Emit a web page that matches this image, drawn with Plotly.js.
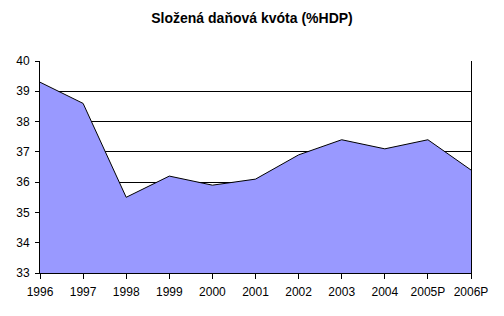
<!DOCTYPE html>
<html><head><meta charset="utf-8">
<script src="https://cdn.plot.ly/plotly-3.0.1.min.js"></script>
<style>html,body{margin:0;padding:0;background:#fff}#c{width:504px;height:316px}</style>
</head><body><div id="c"></div>
<script>
const years = ["1996","1997","1998","1999","2000","2001","2002","2003","2004","2005P","2006P"];
const quota = [39.3, 38.6, 35.5, 36.2, 35.9, 36.1, 36.9, 37.4, 37.1, 37.4, 36.4];
const yTicks = [33, 34, 35, 36, 37, 38, 39, 40];

Plotly.newPlot('c', [{
  x: years, y: quota, type: 'scatter', mode: 'lines',
  fill: 'tozeroy', fillcolor: '#9999FF',
  line: {color: '#000000', width: 1}
}], {
  width: 504, height: 316,
  margin: {l: 40, r: 33, t: 61, b: 43},
  paper_bgcolor: '#fff', plot_bgcolor: '#fff',
  showlegend: false,
  font: {family: 'Liberation Sans, Arial, sans-serif', size: 12, color: '#000'},
  title: {text: 'Složená daňová kvóta (%HDP)', x: 0.5, xanchor: 'center', y: 0.944, yanchor: 'middle',
          font: {family: 'Liberation Sans, Arial, sans-serif', size: 14, color: '#000', weight: 'bold'}},
  xaxis: {type: 'category', range: [0, 10], showgrid: false, zeroline: false,
          showline: true, linecolor: '#000', linewidth: 1,
          ticks: 'outside', ticklen: 5, tickcolor: '#000', tickfont: {size: 12}, ticklabelstandoff: 3},
  yaxis: {range: [33, 40], tickvals: yTicks, showgrid: true, gridcolor: '#000', gridwidth: 1,
          zeroline: false, showline: true, mirror: true, linecolor: '#000', linewidth: 1,
          ticks: 'outside', ticklen: 4, tickcolor: '#000', tickfont: {size: 12}, ticklabelstandoff: 3}
}, {displayModeBar: false, staticPlot: true});
</script></body></html>
